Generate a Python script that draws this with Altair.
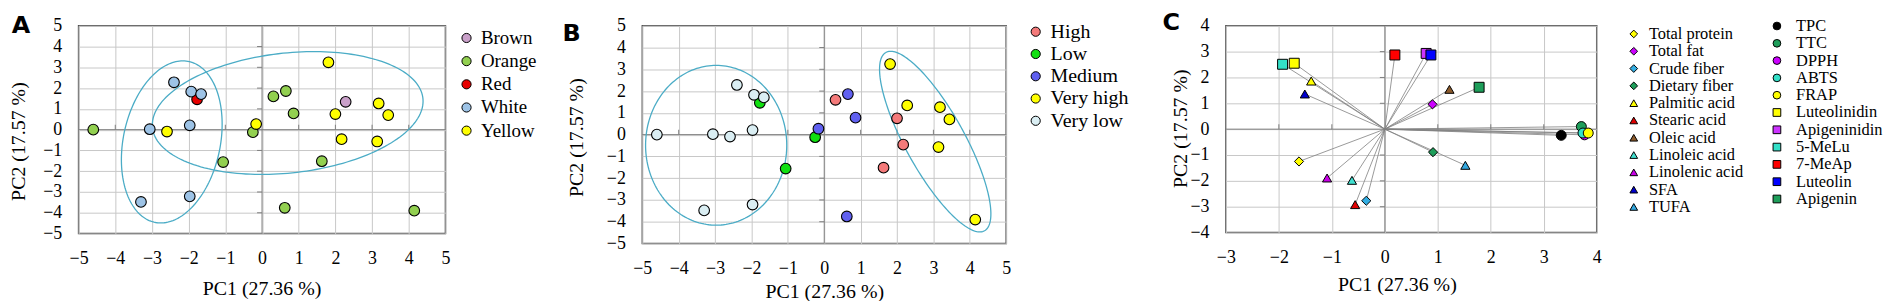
import numpy as np
import pandas as pd
import altair as alt

# ---------------- data ----------------
# PCA scores shared by panels A and B
pc1 = [-4.60, -3.06, -2.59, -1.77, -2.40, -1.93, -1.66, -1.97, -3.30, -1.97, -1.06, -0.25, -0.16,
       0.31, 0.65, 0.86, 0.62, 1.63, 1.81, 2.00, 2.28, 2.17, 3.18, 3.44, 3.14, 4.15]
pc2 = [0.00, 0.02, -0.09, 1.46, 2.28, 1.83, 1.71, 0.21, -3.48, -3.21, -1.56, -0.12, 0.27,
       1.60, 1.86, 0.78, -3.76, -1.52, 3.24, 0.75, 1.34, -0.46, 1.26, 0.70, -0.57, -3.90]
grain_colour = ['Orange', 'White', 'Yellow', 'Red', 'White', 'White', 'White', 'White', 'White', 'White',
                'Orange', 'Orange', 'Yellow', 'Orange', 'Orange', 'Orange', 'Orange', 'Orange', 'Yellow',
                'Yellow', 'Brown', 'Yellow', 'Yellow', 'Yellow', 'Yellow', 'Orange']
level = ['Very low', 'Very low', 'Very low', 'Low', 'Very low', 'Very low', 'Very low', 'Very low', 'Very low',
         'Very low', 'Low', 'Low', 'Medium', 'High', 'Medium', 'Medium', 'Medium', 'High', 'Very high', 'High',
         'Very high', 'High', 'Very high', 'Very high', 'Very high', 'Very high']

catsA = ['Brown', 'Orange', 'Red', 'White', 'Yellow']
colsA = ['#C9A0C9', '#92D050', '#E60000', '#9DC3E6', '#FFFF00']
catsB = ['High', 'Low', 'Medium', 'Very high', 'Very low']
colsB = ['#F47A7A', '#10E010', '#6060F0', '#FFFF00', '#DAEEF3']

# ellipses: centre + two conjugate half-diameters (data units)
ellA_cx = [-2.46, 0.70]
ellA_cy = [-0.59, 0.80]
ellA_ux = [0.30, 3.69]
ellA_uy = [3.90, 0.57]
ellA_vx = [1.34, 0.00]
ellA_vy = [0.00, 2.90]
ellB_cx = [-2.97, 3.05]
ellB_cy = [-0.49, -0.32]
ellB_ux = [0.00, -1.355]
ellB_uy = [3.67, 4.095]
ellB_vx = [1.94, 0.71]
ellB_vy = [0.00, 0.66]

# loadings, panel C
names1 = ['Total protein', 'Total fat', 'Crude fiber', 'Dietary fiber', 'Palmitic acid', 'Stearic acid',
          'Oleic acid', 'Linoleic acid', 'Linolenic acid', 'SFA', 'TUFA']
shapes1 = ['diamond'] * 4 + ['triangle-up'] * 7
colors1 = ['#FFFF00', '#CC00FF', '#33AEE3', '#1E9E5A', '#FFFF00', '#E00000', '#8B5A2B', '#40E0D0',
           '#C800E6', '#0000CC', '#33A8E0']
load1_x = [-1.62, 0.90, -0.35, 0.91, -1.39, -0.56, 1.22, -0.62, -1.09, -1.51, 1.52]
load1_y = [-1.25, 0.96, -2.77, -0.89, 1.86, -2.92, 1.54, -1.98, -1.89, 1.36, -1.40]

names2 = ['TPC', 'TTC', 'DPPH', 'ABTS', 'FRAP', 'Luteolinidin', 'Apigeninidin', '5-MeLu', '7-MeAp',
          'Luteolin', 'Apigenin']
shapes2 = ['circle'] * 5 + ['square'] * 6
colors2 = ['#000000', '#1E9E5A', '#CC00FF', '#33E0C8', '#FFFF00', '#FFFF00', '#CC33FF', '#33E0C8',
           '#FF0000', '#0000FF', '#1E9E5A']
load2_x = [3.33, 3.71, 3.77, 3.74, 3.84, -1.71, 0.78, -1.93, 0.19, 0.87, 1.78]
load2_y = [-0.24, 0.10, -0.22, -0.15, -0.15, 2.55, 2.93, 2.51, 2.87, 2.87, 1.62]

ticksAB = [-5, -4, -3, -2, -1, 0, 1, 2, 3, 4, 5]
ticksCx = [-3, -2, -1, 0, 1, 2, 3, 4]
ticksCy = [-4, -3, -2, -1, 0, 1, 2, 3, 4]

# ---------------- styling ----------------
SERIF = 'Liberation Serif'
GRID = '#C8C8C8'
ZERO = '#7F7F7F'
ELL = '#4BACC6'


def enc(xdom, ydom, xvals, yvals, xtitle, ytitle):
    X = alt.X('x:Q', scale=alt.Scale(domain=xdom, nice=False, zero=False),
              axis=alt.Axis(values=xvals, grid=True, gridColor=GRID, gridWidth=1, ticks=False, tickSize=0,
                            domain=False, labelFlush=False, labelOverlap=False, labelFontSize=18,
                            labelPadding=16, labelFont=SERIF, labelColor='black', title='PC1 (27.36 %)',
                            titleFont=SERIF, titleFontSize=20, titleFontWeight='normal', titleColor='black',
                            titleX=xtitle[0], titleY=xtitle[1], titleBaseline='middle'))
    Y = alt.Y('y:Q', scale=alt.Scale(domain=ydom, nice=False, zero=False),
              axis=alt.Axis(values=yvals, grid=True, gridColor=GRID, gridWidth=1, ticks=False, tickSize=0,
                            domain=False, labelFlush=False, labelOverlap=False, labelFontSize=18,
                            labelPadding=17, labelFont=SERIF, labelColor='black', title='PC2 (17.57 %)',
                            titleFont=SERIF, titleFontSize=20, titleFontWeight='normal', titleColor='black',
                            titleX=ytitle[0], titleY=ytitle[1], titleBaseline='middle'))
    return X, Y


def frame_layers(X, Y, letter, letter_xy, box, zx, zy):
    one = pd.DataFrame({'t': [letter]})
    boxl = alt.Chart(one).mark_rect(opacity=0).encode(
        x=alt.value(box[0]), x2=alt.value(box[1]), y=alt.value(box[2]), y2=alt.value(box[3]))
    lab = alt.Chart(one).mark_text(font='DejaVu Sans', fontWeight='bold', fontSize=24, color='black',
                                   align='center', baseline='middle').encode(
        text='t:N', x=alt.value(letter_xy[0]), y=alt.value(letter_xy[1]))
    zv = alt.Chart(pd.DataFrame({'x': [0]})).mark_rule(color=ZERO, strokeWidth=1).encode(x=X)
    zh = alt.Chart(pd.DataFrame({'y': [0]})).mark_rule(color=ZERO, strokeWidth=1).encode(y=Y)
    tx = alt.Chart(pd.DataFrame({'x': zx, 'y': [0] * len(zx)})).mark_tick(
        orient='vertical', size=5, thickness=1, color=ZERO, yOffset=-2.5, opacity=1).encode(x=X, y=Y)
    ty = alt.Chart(pd.DataFrame({'x': [0] * len(zy), 'y': zy})).mark_tick(
        orient='horizontal', size=5, thickness=1, color=ZERO, xOffset=-2.5, opacity=1).encode(x=X, y=Y)
    return [boxl, lab, zv, zh, tx, ty]


def ellipse_df(cx, cy, ux, uy, vx, vy):
    t = np.linspace(0, 2 * np.pi, 181)
    frames = []
    for k in range(len(cx)):
        frames.append(pd.DataFrame({
            'e': k, 'i': np.arange(len(t)),
            'x': cx[k] + ux[k] * np.cos(t) + vx[k] * np.sin(t),
            'y': cy[k] + uy[k] * np.cos(t) + vy[k] * np.sin(t)}))
    return pd.concat(frames, ignore_index=True)


def make_legend(lx, ly, fs, rp, lo, size, stype=None):
    kw = dict(title=None, orient='none', legendX=lx, legendY=ly, offset=0, padding=0,
              labelFont=SERIF, labelFontSize=fs, labelColor='black', symbolSize=size,
              symbolStrokeColor='black', symbolStrokeWidth=1, rowPadding=rp, labelOffset=lo)
    if stype:
        kw['symbolType'] = stype
    return alt.Legend(**kw)


def score_panel(cats_col, cats, cols, ell, letter, letter_xy, box, W, H, xtitle, ytitle, leg):
    X, Y = enc([-5, 5], [-5, 5], ticksAB, ticksAB, xtitle, ytitle)
    inner = [-4, -3, -2, -1, 1, 2, 3, 4]
    layers = frame_layers(X, Y, letter, letter_xy, box, inner, inner)
    edf = ellipse_df(*ell)
    el = alt.Chart(edf).mark_line(color=ELL, strokeWidth=1.3).encode(
        x=X, y=Y, detail='e:N', order='i:Q')
    pdf = pd.DataFrame({'x': pc1, 'y': pc2, 'cat': cats_col})
    pts = alt.Chart(pdf).mark_point(filled=True, size=115, stroke='black', strokeWidth=1.1, opacity=1).encode(
        x=X, y=Y, color=alt.Color('cat:N', scale=alt.Scale(domain=cats, range=cols), legend=leg))
    return alt.layer(*layers, el, pts).properties(width=W, height=H)


panelA = score_panel(grain_colour, catsA, colsA,
                     (ellA_cx, ellA_cy, ellA_ux, ellA_uy, ellA_vx, ellA_vy),
                     'A', (-58, 0.7), (-85, 470, -23, 271), 369, 209,
                     (184, 55), (-60, 116), make_legend(380.7, 2.8, 19, 3.3, 5, 85, 'circle'))
panelB = score_panel(level, catsB, colsB,
                     (ellB_cx, ellB_cy, ellB_ux, ellB_uy, ellB_vx, ellB_vy),
                     'B', (-71, 8), (-95, 512, -17, 277), 366, 219,
                     (183, 48), (-66, 112), make_legend(385.7, -4, 20, 2.4, 5, 85, 'circle'))

# panel C
XC, YC = enc([-3, 4], [-4, 4], ticksCx, ticksCy, (172, 52), (-46, 103))
layC = frame_layers(XC, YC, 'C', (-55, -3), (-73, 670, -26, 268), [-2, -1, 1, 2, 3], [-3, -2, -1, 1, 2, 3])
vec = pd.DataFrame({'x': load1_x + load2_x, 'y': load1_y + load2_y})
vec['x0'] = 0.0
vec['y0'] = 0.0
vlines = alt.Chart(vec).mark_rule(color='#808080', strokeWidth=0.8).encode(
    x=XC, y=YC, x2=alt.X2('x0:Q'), y2=alt.Y2('y0:Q'))
leg1 = make_legend(402, 0, 16.5, 0.4, 7, 60)
leg2 = make_legend(546, -8, 16.5, 0.4, 11, 60)
p1 = alt.Chart(pd.DataFrame({'x': load1_x, 'y': load1_y, 'v': names1})).mark_point(
    filled=True, size=85, stroke='black', strokeWidth=1, opacity=1).encode(
    x=XC, y=YC,
    color=alt.Color('v:N', scale=alt.Scale(domain=names1, range=colors1), legend=leg1),
    shape=alt.Shape('v:N', scale=alt.Scale(domain=names1, range=shapes1), legend=leg1))
p2 = alt.Chart(pd.DataFrame({'x': load2_x, 'y': load2_y, 'w': names2})).mark_point(
    filled=True, size=100, stroke='black', strokeWidth=1, opacity=1).encode(
    x=XC, y=YC,
    color=alt.Color('w:N', scale=alt.Scale(domain=names2, range=colors2), legend=leg2),
    shape=alt.Shape('w:N', scale=alt.Scale(domain=names2, range=shapes2), legend=leg2))
panelC = alt.layer(*layC, vlines, p1, p2).resolve_scale(
    color='independent', shape='independent').properties(width=373, height=208)

chart = alt.hconcat(panelA, panelB, panelC, spacing=0).resolve_scale(
    x='independent', y='independent', color='independent', shape='independent'
).properties(padding={'left': -15, 'top': -10, 'right': 0, 'bottom': 0}).configure_view(
    stroke='#505050', strokeWidth=1.5).configure_axis(
    labelFont=SERIF, titleFont=SERIF).configure_legend(labelFont=SERIF)

chart.save('out.html', embed_options={'renderer': 'svg', 'actions': False})
